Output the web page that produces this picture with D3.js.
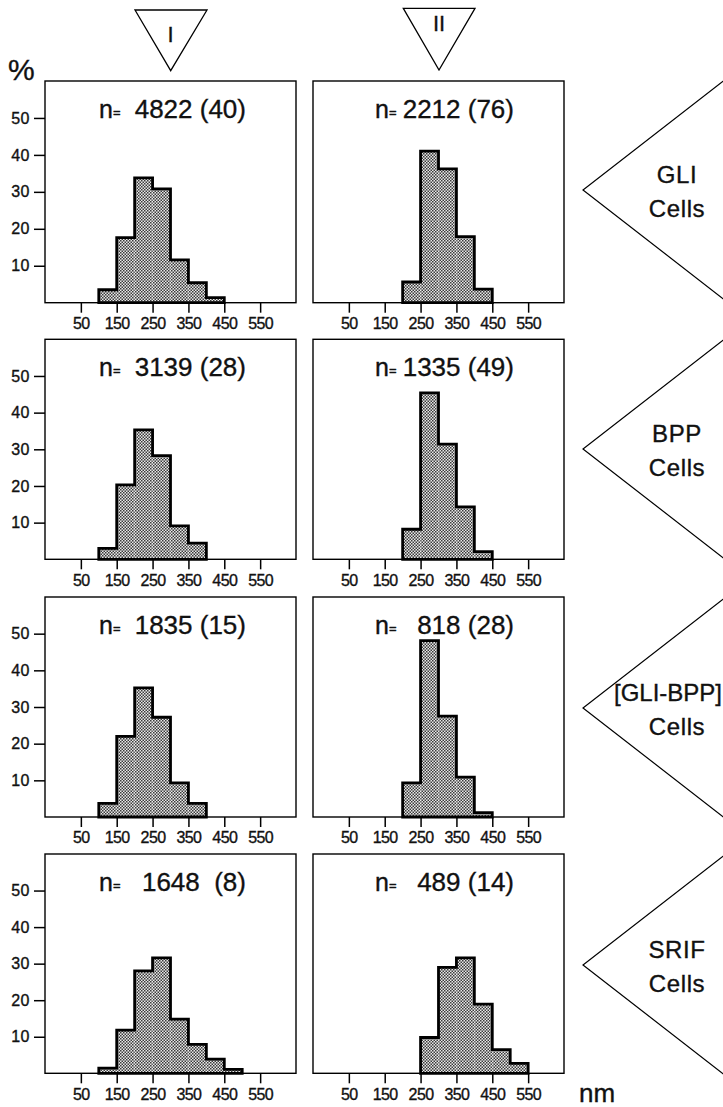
<!DOCTYPE html>
<html>
<head>
<meta charset="utf-8">
<script src="https://cdn.jsdelivr.net/npm/d3@7"></script>
<style>
  html, body { margin: 0; padding: 0; background: #fff; }
  svg { display: block; }
  text { font-family: "Liberation Sans", Arial, Helvetica, sans-serif; fill: #111; stroke: #111; stroke-width: 0.35px; }
</style>
</head>
<body>
<svg id="chart" width="723" height="1107"></svg>
<script>
// ---------------- DATA ----------------
const binStarts = [0, 50, 100, 150, 200, 250, 300, 350, 400, 450, 500, 550];
const binWidth = 50;
const xTickValues = [50, 150, 250, 350, 450, 550];
const yTickValues = [10, 20, 30, 40, 50];
const columnLabels = ["I", "II"];
const rowLabels = [["GLI", "Cells"], ["BPP", "Cells"], ["[GLI-BPP]", "Cells"], ["SRIF", "Cells"]];

// percent per 50 nm bin (row-wise: GLI, BPP, GLI-BPP, SRIF; col I / col II)
const gliI      = [0, 0, 3.5, 17.6, 33.8, 30.8, 11.6, 5.4, 1.4, 0, 0, 0];
const gliII     = [0, 0, 0, 0, 5.6, 41.0, 36.2, 17.9, 3.7, 0, 0, 0];
const bppI      = [0, 0, 3.0, 20.3, 35.3, 28.3, 9.1, 4.4, 0, 0, 0, 0];
const bppII     = [0, 0, 0, 0, 8.2, 45.4, 31.4, 14.3, 2.1, 0, 0, 0];
const gliBppI   = [0, 0, 3.7, 22.0, 35.2, 27.2, 9.3, 3.7, 0, 0, 0, 0];
const gliBppII  = [0, 0, 0, 0, 9.3, 48.1, 27.5, 10.9, 1.2, 0, 0, 0];
const srifI     = [0, 0, 1.4, 11.8, 28.0, 31.6, 14.8, 7.9, 3.9, 1.1, 0, 0];
const srifII    = [0, 0, 0, 0, 0, 9.8, 29.0, 31.6, 18.9, 6.5, 2.7, 0];

const nCounts    = [4822, 2212, 3139, 1335, 1835, 818, 1648, 489];
const cellCounts = [40, 76, 28, 49, 15, 28, 8, 14];
const seriesList = [gliI, gliII, bppI, bppII, gliBppI, gliBppII, srifI, srifII];

// ---------------- LAYOUT ----------------
const svg = d3.select("#chart");
const colX = [[45, 296], [313, 564]];
const rowY = [[81, 302.7], [339.3, 559.3], [597, 817], [854, 1073.3]];
const xDomain = [-50, 650];
const yDomain = [0, 60];

// stipple pattern
const defs = svg.append("defs");
const pat = defs.append("pattern").attr("id", "stip")
  .attr("patternUnits", "userSpaceOnUse").attr("width", 3).attr("height", 3);
pat.append("rect").attr("width", 3).attr("height", 3).attr("fill", "#e8e8e8");
pat.append("rect").attr("x", 0).attr("y", 0).attr("width", 1.5).attr("height", 1.5).attr("fill", "#3a3a3a");
pat.append("rect").attr("x", 1.5).attr("y", 1.5).attr("width", 1.5).attr("height", 1.5).attr("fill", "#3a3a3a");

seriesList.forEach((vals, i) => {
  const r = Math.floor(i / 2), c = i % 2;
  const [x0, x1] = colX[c];
  const [yTop, yBot] = rowY[r];
  const x = d3.scaleLinear().domain(xDomain).range([x0, x1]);
  const y = d3.scaleLinear().domain(yDomain).range([yBot, yTop]);
  const g = svg.append("g");

  // bars (fill only)
  const bins = binStarts.map((s, k) => ({ s, v: vals[k] })).filter(d => d.v > 0);
  g.selectAll("rect.bar").data(bins).join("rect").attr("class", "bar")
    .attr("x", d => x(d.s)).attr("width", d => x(d.s + binWidth) - x(d.s))
    .attr("y", d => y(d.v)).attr("height", d => y(0) - y(d.v))
    .attr("fill", "url(#stip)");

  // stepped outline
  if (bins.length) {
    const pts = [[x(bins[0].s), y(0)]];
    bins.forEach(d => { pts.push([x(d.s), y(d.v)]); pts.push([x(d.s + binWidth), y(d.v)]); });
    pts.push([x(bins[bins.length - 1].s + binWidth), y(0)]);
    g.append("path").attr("d", d3.line()(pts) + "Z")
      .attr("fill", "none").attr("stroke", "#000").attr("stroke-width", 2.8)
      .attr("stroke-linejoin", "miter");
  }

  // frame
  g.append("rect").attr("x", x0).attr("y", yTop).attr("width", x1 - x0).attr("height", yBot - yTop)
    .attr("fill", "none").attr("stroke", "#000").attr("stroke-width", 1.4);

  // x axis ticks
  const xa = g.append("g").attr("transform", `translate(0,${yBot})`)
    .call(d3.axisBottom(x).tickValues(xTickValues).tickSize(10).tickPadding(5).tickFormat(d3.format("d")));
  xa.select(".domain").remove();
  xa.selectAll("line").attr("stroke", "#000").attr("stroke-width", 1.5);
  xa.selectAll("text").attr("font-size", 16).attr("fill", "#111").attr("letter-spacing", -0.6)
    .attr("font-family", '"Liberation Sans", Arial, sans-serif');

  // y axis (left column only)
  if (c === 0) {
    const ya = g.append("g").attr("transform", `translate(${x0},0)`)
      .call(d3.axisLeft(y).tickValues(yTickValues).tickSize(11).tickPadding(4).tickFormat(d3.format("d")));
    ya.select(".domain").remove();
    ya.selectAll("line").attr("stroke", "#000").attr("stroke-width", 1.5);
    ya.selectAll("text").attr("font-size", 16).attr("fill", "#111").attr("letter-spacing", 0.5)
      .attr("font-family", '"Liberation Sans", Arial, sans-serif');
  }

  // n label
  const base = yTop + 37;
  const nx = c === 0 ? x0 + 54 : x0 + 62;
  const t = g.append("text").attr("y", base).attr("font-size", 25);
  t.append("tspan").attr("x", nx).text("n");
  t.append("tspan").attr("font-size", 13).attr("dy", -1).text("=");
  g.append("text").attr("x", x0 + 201).attr("y", base).attr("font-size", 26)
    .attr("text-anchor", "end").style("white-space", "pre")
    .text(`${nCounts[i]}${cellCounts[i] < 10 ? "  " : " "}(${cellCounts[i]})`);
});

// % symbol
svg.append("text").attr("x", 8).attr("y", 80).attr("font-size", 30).text("%");

// column triangles
const colTri = [
  { pts: [[135, 10], [207, 10], [170.7, 70.7]], lx: 170.5, ly: 42 },
  { pts: [[403.3, 8.3], [475, 8.3], [439, 70]], lx: 439, ly: 31 }
];
colTri.forEach((d, k) => {
  svg.append("path").attr("d", d3.line()(d.pts) + "Z")
    .attr("fill", "none").attr("stroke", "#000").attr("stroke-width", 1.3);
  svg.append("text").attr("x", d.lx).attr("y", d.ly).attr("text-anchor", "middle")
    .attr("font-size", 22).text(columnLabels[k]);
});

// row arrows (pointing left)
const apexX = 583, apexYs = [190, 449, 708, 965], reachX = 726, halfH = 111;
rowLabels.forEach((lab, k) => {
  const ay = apexYs[k];
  svg.append("path").attr("d", d3.line()([[reachX, ay - halfH], [apexX, ay], [reachX, ay + halfH]]))
    .attr("fill", "none").attr("stroke", "#000").attr("stroke-width", 1.2);
  svg.append("text").attr("x", k === 2 ? 668 : 677).attr("y", ay - 7).attr("text-anchor", "middle")
    .attr("font-size", 24).attr("letter-spacing", k === 2 ? 0 : 0.6).text(lab[0]);
  svg.append("text").attr("x", 677).attr("y", ay + 27).attr("text-anchor", "middle")
    .attr("font-size", 24).attr("letter-spacing", 0.6).text(lab[1]);
});

// nm unit
svg.append("text").attr("x", 579).attr("y", 1102).attr("font-size", 26).text("nm");
</script>
</body>
</html>
